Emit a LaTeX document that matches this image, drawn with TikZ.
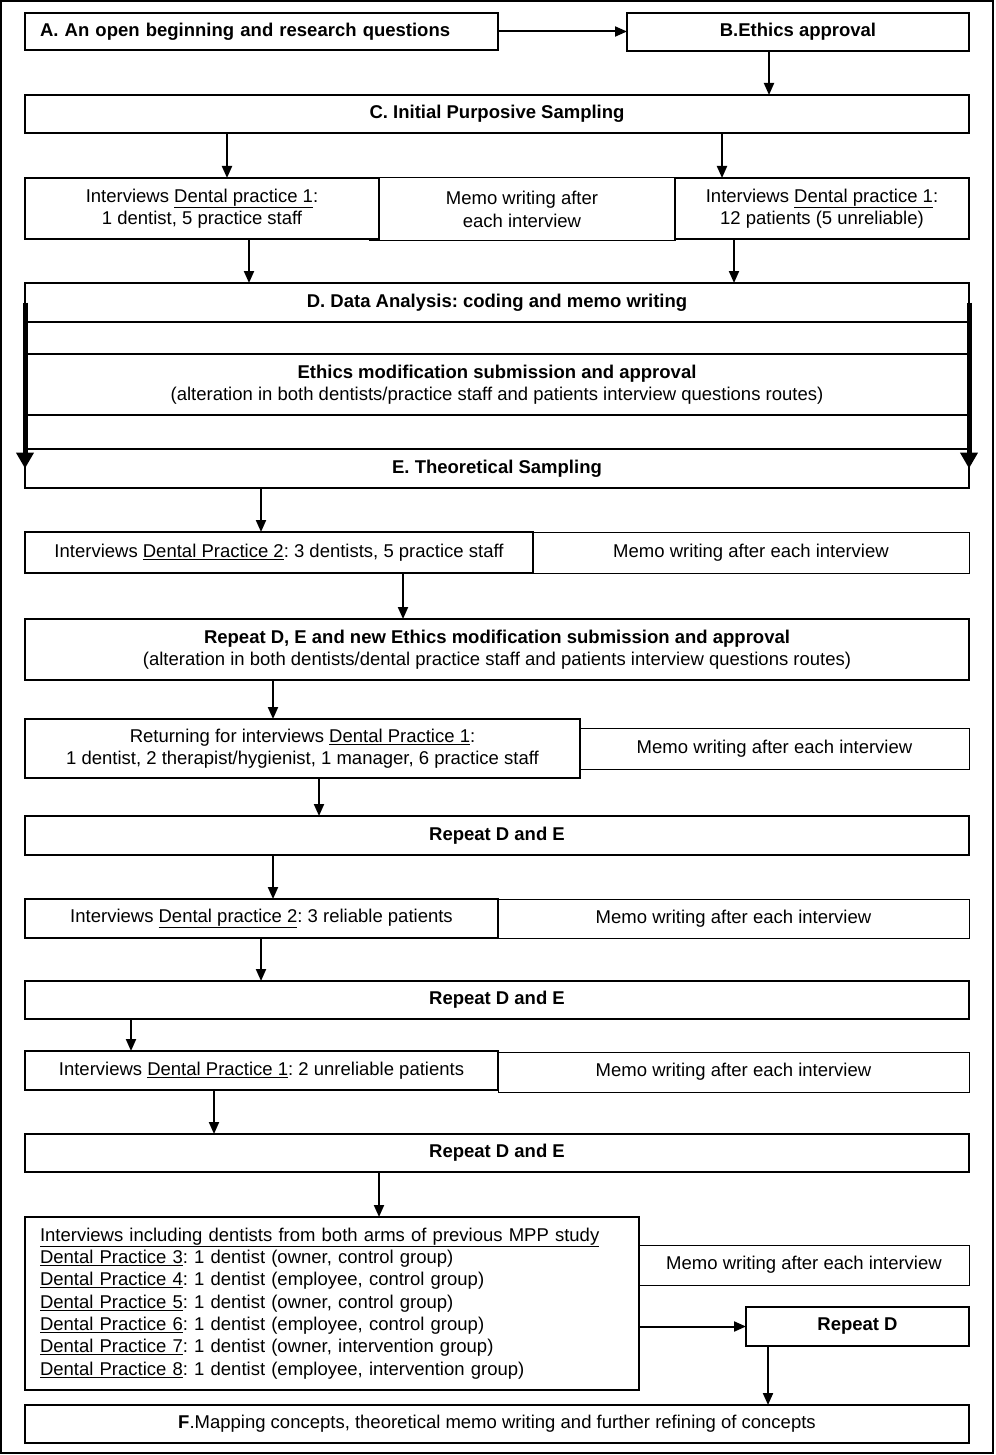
\documentclass[tikz,border=0pt]{standalone}
\usepackage{fontspec}
\setmainfont{Liberation Sans}
\frenchspacing
\usetikzlibrary{arrows.meta,positioning}

\begin{document}
\begin{tikzpicture}[x=1pt,y=-1pt]
	\tikzset{boite/.style={draw=black, line width=2pt, fill=white, inner sep=0pt, outer sep=0pt, font=\fontsize{18.5}{22.3}\selectfont, align=center},
		memo/.style={boite, line width=1pt},
		fleche/.style={>={Triangle[length=12pt,width=10pt]}, ->, line width=2pt},
		grosse/.style={-{Triangle[length=16pt,width=17pt]}, line width=5pt}};
	\useasboundingbox (0,0) rectangle (995,1455);
	\draw[line width=1.5pt] (1,1) rectangle (993,1453);

	\node[boite, text width=443pt, inner xsep=15pt, align=left, minimum height=37pt] (a) at (261.5,31.5) {\textbf{A. An open beginning and research questions}};
	\node[boite, minimum width=342pt, minimum height=38pt] (b) at (798,32) {\textbf{B.Ethics approval}};
	\node[boite, minimum width=944pt, minimum height=38pt] (c) at (497,114) {\textbf{C. Initial Purposive Sampling}};

	\node[memo, minimum width=306pt, minimum height=63pt] (m1) at (522,209.5) {Memo writing after\\each interview};
	\node[boite, minimum width=354pt, minimum height=61pt] (i1) at (202,208.5) {Interviews \underline{Dental practice 1}:\\1 dentist, 5 practice staff};
	\node[boite, minimum width=294pt, minimum height=61pt] (i2) at (822,208.5) {Interviews \underline{Dental practice 1}:\\12 patients (5 unreliable)};

	\node[boite, minimum width=944pt, minimum height=39pt] (d) at (497,302.5) {\textbf{D. Data Analysis: coding and memo writing}};
	\node[boite, minimum width=944pt, minimum height=32pt] (g1) at (497,338) {};
	\node[boite, minimum width=944pt, minimum height=61pt] (eth) at (497,384.5) {\textbf{Ethics modification submission and approval}\\(alteration in both dentists/practice staff and patients interview questions routes)};
	\node[boite, minimum width=944pt, minimum height=34pt] (g2) at (497,432) {};
	\node[boite, minimum width=944pt, minimum height=39pt] (e) at (497,468.5) {\textbf{E. Theoretical Sampling}};

	\node[boite, minimum width=508pt, minimum height=41pt] (p2) at (279,552.5) {Interviews \underline{Dental Practice 2}: 3 dentists, 5 practice staff};
	\node[memo, minimum width=436pt, minimum height=41pt] (m2) at (751,552.5) {Memo writing after each interview};
	\node[boite, minimum width=944pt, minimum height=61pt] (r1) at (497,649.5) {\textbf{Repeat D, E and new Ethics modification submission and approval}\\(alteration in both dentists/dental practice staff and patients interview questions routes)};

	\node[memo, minimum width=389pt, minimum height=41pt] (m3) at (774.5,748.5) {Memo writing after each interview};
	\node[boite, minimum width=555pt, minimum height=59pt] (ret) at (302.5,748.5) {Returning for interviews \underline{Dental Practice 1}:\\1 dentist, 2 therapist/hygienist, 1 manager, 6 practice staff};
	\node[boite, minimum width=944pt, minimum height=39pt] (r2) at (497,835.5) {\textbf{Repeat D and E}};

	\node[boite, minimum width=473pt, minimum height=39pt] (p3) at (261.5,918.5) {Interviews \underline{Dental practice 2}: 3 reliable patients};
	\node[memo, minimum width=471pt, minimum height=39pt] (m4) at (733.5,918.5) {Memo writing after each interview};
	\node[boite, minimum width=944pt, minimum height=38pt] (r3) at (497,1000) {\textbf{Repeat D and E}};

	\node[boite, minimum width=473pt, minimum height=39pt] (p4) at (261.5,1070.5) {Interviews \underline{Dental Practice 1}: 2 unreliable patients};
	\node[memo, minimum width=471pt, minimum height=40pt] (m5) at (733.5,1072) {Memo writing after each interview};
	\node[boite, minimum width=944pt, minimum height=38pt] (r4) at (497,1153) {\textbf{Repeat D and E}};

	\node[boite, text width=584pt, inner xsep=15pt, align=left, minimum height=173pt] (mpp) at (332,1303.5) {\underline{Interviews including dentists from both arms of previous MPP study}\\
		\underline{Dental Practice 3}: 1 dentist (owner, control group)\\
		\underline{Dental Practice 4}: 1 dentist (employee, control group)\\
		\underline{Dental Practice 5}: 1 dentist (owner, control group)\\
		\underline{Dental Practice 6}: 1 dentist (employee, control group)\\
		\underline{Dental Practice 7}: 1 dentist (owner, intervention group)\\
		\underline{Dental Practice 8}: 1 dentist (employee, intervention group)};
	\node[memo, minimum width=330pt, minimum height=40pt] (m6) at (804,1265) {Memo writing after each interview};
	\node[boite, minimum width=223pt, minimum height=39pt] (rd) at (857.5,1326.5) {\textbf{Repeat D}};
	\node[boite, minimum width=944pt, minimum height=38pt] (f) at (497,1424) {\textbf{F}.Mapping concepts, theoretical memo writing and further refining of concepts};

	\draw[fleche] (a.east) -- (a.east -| b.west);
	\draw[fleche] (b.south -| 769,0) -- (c.north -| 769,0);
	\draw[fleche] (c.south -| 227,0) -- (i1.north -| 227,0);
	\draw[fleche] (c.south -| 722,0) -- (i2.north -| 722,0);
	\draw[fleche] (i1.south -| 249,0) -- (d.north -| 249,0);
	\draw[fleche] (i2.south -| 734,0) -- (d.north -| 734,0);
	\draw[grosse] (d.west) -- (e.west);
	\draw[grosse] (d.east) -- (e.east);
	\draw[fleche] (e.south -| 261,0) -- (p2.north -| 261,0);
	\draw[fleche] (p2.south -| 403,0) -- (r1.north -| 403,0);
	\draw[fleche] (r1.south -| 273,0) -- (ret.north -| 273,0);
	\draw[fleche] (ret.south -| 319,0) -- (r2.north -| 319,0);
	\draw[fleche] (r2.south -| 273,0) -- (p3.north -| 273,0);
	\draw[fleche] (p3.south -| 261,0) -- (r3.north -| 261,0);
	\draw[fleche] (r3.south -| 131,0) -- (p4.north -| 131,0);
	\draw[fleche] (p4.south -| 214,0) -- (r4.north -| 214,0);
	\draw[fleche] (r4.south -| 379,0) -- (mpp.north -| 379,0);
	\draw[fleche] (mpp.east |- rd.west) -- (rd.west);
	\draw[fleche] (rd.south -| 768,0) -- (f.north -| 768,0);
\end{tikzpicture}
\end{document}
